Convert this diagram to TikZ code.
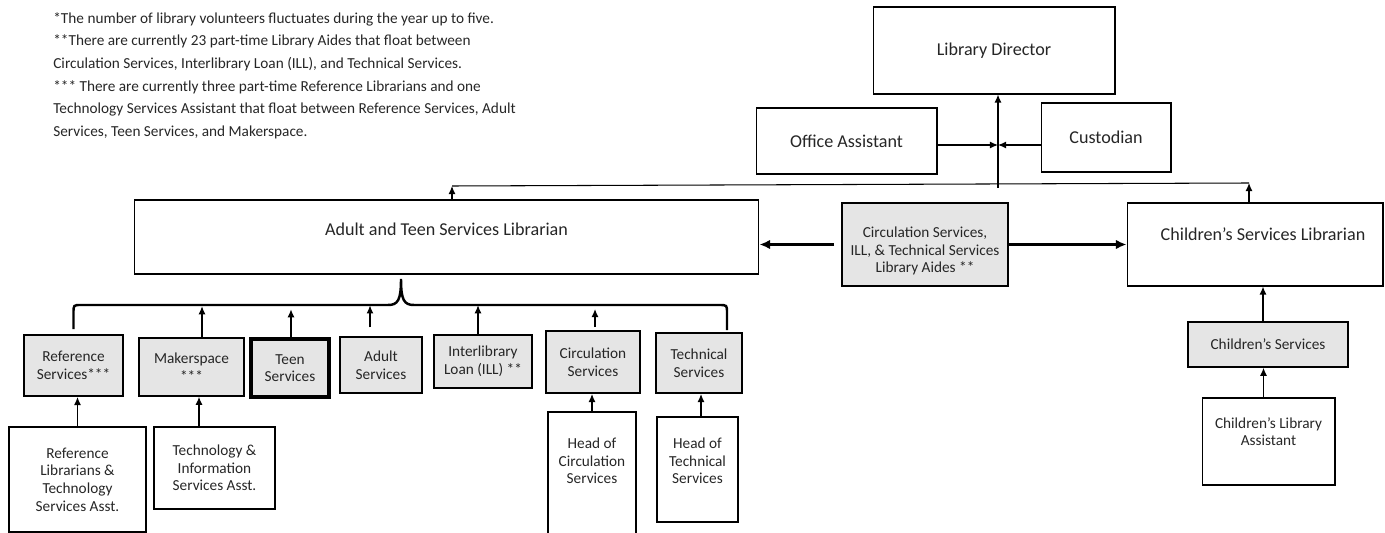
\documentclass[tikz,border=0pt]{standalone}
\usepackage{fontspec}
\setmainfont{Carlito}
\usetikzlibrary{calc,arrows.meta}
\tikzset{
  bigtext/.style={font=\fontsize{10.3}{12.4}\selectfont, align=center, text=black!85},
  smalltext/.style={font=\fontsize{8.7}{10}\selectfont, align=center, text=black!85},
  orgbox/.style={draw, line width=0.6pt, inner sep=0pt, bigtext},
  unitbox/.style={draw, fill=black!10, line width=0.9pt, inner sep=0pt, smalltext},
  staffbox/.style={draw, line width=0.6pt, inner sep=0pt, smalltext},
  notes/.style={font=\fontsize{8.7}{12.9}\selectfont, align=left, inner sep=0pt, text=black!85},
  arr/.style={-{Latex[length=4.6pt,width=4pt]}, line width=0.7pt},
  thickarr/.style={-{Latex[length=6pt,width=5.4pt]}, line width=1.4pt},
  bus/.style={line width=1.4pt},
}

\begin{document}
\begin{tikzpicture}[x=0.02cm, y=-0.02cm]
			%%%%% START %%%%%
			\useasboundingbox (0,0) rectangle (1385,533);
			\clip (0,0) rectangle (1385,533);
			
			\node[notes, anchor=north west] (notes) at (53,12) {*The number of library volunteers fluctuates during the year up to five.\\
				**There are currently 23 part-time Library Aides that float between\\
				Circulation Services, Interlibrary Loan (ILL), and Technical Services.\\
				*** There are currently three part-time Reference Librarians and one\\
				Technology Services Assistant that float between Reference Services, Adult\\
				Services, Teen Services, and Makerspace.};
			
			% top
			\node[orgbox, minimum width=4.84cm, minimum height=1.74cm] (dir) at (994,50.5) {Library Director};
			\node[orgbox, minimum width=3.62cm, minimum height=1.32cm] (office) at (846.5,141) {Office Assistant};
			\node[orgbox, minimum width=2.6cm, minimum height=1.38cm] (cust) at (1106,137.5) {Custodian};
			
			% librarians
			\node[orgbox, minimum width=12.5cm, minimum height=1.48cm,
				label={[bigtext, yshift=0.16cm]center:Adult and Teen Services Librarian}] (ats) at (446.5,237) {};
			\node[unitbox, line width=1.1pt, minimum width=3.32cm, minimum height=1.66cm,
				label={[smalltext, yshift=-0.13cm]center:Circulation Services,\\ILL, \& Technical Services\\Library Aides **}] (aides) at (925,244.5) {};
			\node[orgbox, minimum width=5.12cm, minimum height=1.66cm,
				label={[bigtext, xshift=0.16cm, yshift=0.21cm]center:Children’s Services Librarian}] (childlib) at (1255,244.5) {};
			
			% units
			\node[unitbox, line width=1.1pt, minimum width=1.98cm, minimum height=1.22cm] (ref) at (73.5,365.5) {Reference\\Services***};
			\node[unitbox, minimum width=2.1cm, minimum height=1.16cm] (maker) at (191.5,367) {Makerspace\\***};
			\node[unitbox, line width=1.9pt, minimum width=1.56cm, minimum height=1.16cm] (teen) at (290,368) {Teen\\Services};
			\node[unitbox, line width=0.7pt, minimum width=1.64cm, minimum height=1.12cm] (adult) at (381,365) {Adult\\Services};
			\node[unitbox, minimum width=1.96cm, minimum height=1.06cm] (ill) at (483,361.5) {Interlibrary\\Loan (ILL) **};
			\node[unitbox, line width=1.1pt, minimum width=1.88cm, minimum height=1.24cm] (circ) at (593,362) {Circulation\\Services};
			\node[unitbox, line width=1.1pt, minimum width=1.72cm, minimum height=1.2cm] (tech) at (699,363) {Technical\\Services};
			\node[unitbox, minimum width=3.2cm, minimum height=0.9cm] (childsvc) at (1268,344.5) {Children’s Services};
			
			% staff
			\node[staffbox, minimum width=2.74cm, minimum height=2.1cm] (reflib) at (77.5,479.5) {Reference\\Librarians \&\\Technology\\Services Asst.};
			\node[staffbox, minimum width=2.42cm, minimum height=1.64cm] (techinfo) at (214.5,468) {Technology \&\\Information\\Services Asst.};
			\node[staffbox, minimum width=1.76cm, minimum height=2.66cm,
				label={[smalltext, yshift=0.35cm]center:Head of\\Circulation\\Services}] (headcirc) at (592,478.5) {};
			\node[staffbox, minimum width=1.62cm, minimum height=2.1cm,
				label={[smalltext, yshift=0.17cm]center:Head of\\Technical\\Services}] (headtech) at (697.5,469.5) {};
			\node[staffbox, minimum width=2.66cm, minimum height=1.74cm,
				label={[smalltext, yshift=0.2cm]center:Children’s Library\\Assistant}] (childasst) at (1268.5,441.5) {};
			
			% lines to the director
			\coordinate (junc) at (998,145);
			\coordinate (busM) at (998,188);
			\coordinate (busL) at (452,186);
			\coordinate (busR) at (1249,183);
			\draw[line width=0.6pt] (busL) -- (busR);
			\draw[arr] (busM) -- (busM |- dir.south);
			\draw[arr] (office.east |- junc) -- (junc);
			\draw[arr] (cust.west |- junc) -- (junc);
			\draw[arr] (ats.north -| busL) -- (busL);
			\draw[arr] (childlib.north -| busR) -- (busR);
			
			\draw[thickarr] ([xshift=-0.14cm]aides.west) -- (ats.east |- aides.west);
			\draw[thickarr] (aides.east) -- (childlib.west |- aides.east);
			
			% brace under adult and teen
			\coordinate (braceTip) at (401,279);
			\coordinate (braceR) at (727,330);
			\draw[bus] ([yshift=0.1cm]ref.north) -- (73.5,313) .. controls (73.5,305) .. (81,305) -- (388,305)
				.. controls (398,305) and (401,300) .. (braceTip)
				.. controls (401,300) and (404,305) .. (414,305) -- (719,305)
				.. controls (727,305) .. (727,313) -- (braceR);
			
			\draw[arr] (maker.north) ++(10.5,0) -- ++(0,-31);
			\draw[arr] (teen.north) ++(1,0) -- ++(0,-28);
			\draw[arr] (adult.north) ++(-11,-9) -- ++(0,-22);
			\draw[arr] (ill.north) ++(-5,0) -- ++(0,-29);
			\draw[arr] (circ.north) ++(2,-3) -- ++(0,-18);
			
			\draw[arr] (reflib.north) -- (reflib.north |- ref.south);
			\draw[arr] (techinfo.north) ++(-15.5,0) coordinate (t1) -- (t1 |- maker.south);
			\draw[arr] (headcirc.north) -- (headcirc.north |- circ.south);
			\draw[arr] (headtech.north) ++(3.5,0) coordinate (t2) -- (t2 |- tech.south);
			\draw[arr] (childsvc.north) ++(-5,0) coordinate (t3) -- (t3 |- childlib.south);
			\draw[arr] (childasst.north) ++(-5,0) coordinate (t4) -- (t4 |- childsvc.south);
			
			%%%%% END %%%%%
\end{tikzpicture}
\end{document}
